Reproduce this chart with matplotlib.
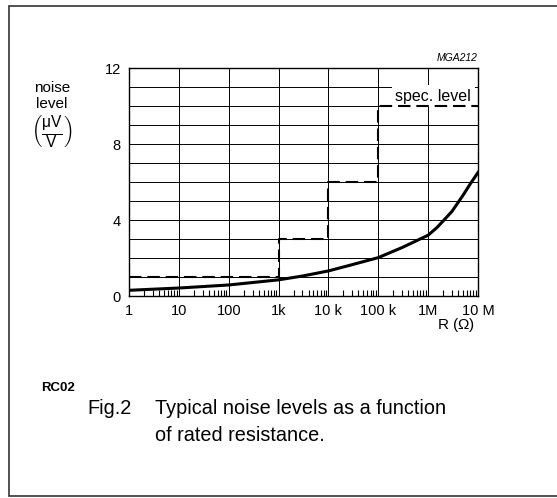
import numpy as np
import matplotlib.pyplot as plt
from matplotlib.ticker import LogLocator, NullFormatter
from matplotlib.patches import Rectangle

plt.rcParams['font.family'] = ['Liberation Sans', 'DejaVu Sans']
plt.rcParams['mathtext.fontset'] = 'custom'
plt.rcParams['mathtext.rm'] = 'Liberation Sans'
plt.rcParams['mathtext.it'] = 'Liberation Sans'

# typical noise (uV/V) vs rated resistance (ohm)
r_typ = [1, 10, 100, 1e3, 3e3, 1e4, 3e4, 1e5, 3e5, 1e6, 1.5e6, 2e6, 3e6, 5e6, 7e6, 1e7]
noise_typ = [0.3, 0.42, 0.58, 0.85, 1.05, 1.32, 1.65, 2.02, 2.55, 3.2, 3.6, 3.95,
             4.45, 5.3, 5.9, 6.5]

# specification limit, stepwise per resistance range
r_spec = [1, 1e3, 1e4, 1e5, 1e7]
noise_spec = [1, 3, 6, 10, 10]

xticks = [1, 10, 100, 1e3, 1e4, 1e5, 1e6, 1e7]
xlabels = ['1', '10', '100', '1k', '10 k', '100 k', '1M', '10 M']
yticks = [0, 4, 8, 12]

W, H = 557, 498
fig = plt.figure(figsize=(W / 100, H / 100), dpi=100)
ax = fig.add_axes([129 / W, (H - 296) / H, (478 - 129) / W, (296 - 68) / H])

ax.set_xscale('log')
ax.set_xlim(1, 1e7)
ax.set_ylim(0, 12)

for y in range(1, 12):
    ax.axhline(y, color='black', lw=0.7, zorder=1)
for x in xticks[1:-1]:
    ax.axvline(x, color='black', lw=0.7, zorder=1)

ax.step(r_spec, noise_spec, where='post', color='black', lw=1.5,
        dashes=(6, 2.8), zorder=5)
ax.plot(r_typ, noise_typ, color='black', lw=2.2, zorder=6,
        solid_joinstyle='round')

ax.set_xticks(xticks)
ax.set_xticklabels(xlabels)
ax.set_yticks(yticks)
ax.xaxis.set_minor_locator(LogLocator(base=10, subs=np.arange(2, 10), numticks=30))
ax.xaxis.set_minor_formatter(NullFormatter())
ax.tick_params(axis='x', which='major', length=0, pad=6, labelsize=10.5)
ax.tick_params(axis='x', which='minor', direction='in', length=4, width=0.8,
               bottom=True)
ax.tick_params(axis='y', length=0, pad=6, labelsize=10.5)
for s in ax.spines.values():
    s.set_linewidth(1.0)
    s.set_zorder(7)

ax.text(1.0, 1.02, 'MGA212', transform=ax.transAxes, ha='right', va='bottom',
        fontsize=7.5, style='italic')
ax.text(0.98, 0.877, 'spec. level', transform=ax.transAxes, ha='right',
        va='center', fontsize=11.5, zorder=4,
        bbox=dict(facecolor='white', edgecolor='none', pad=2.5))

fig.text(52 / W, 1 - 96 / H, 'noise\nlevel', ha='center', va='center',
         fontsize=11, linespacing=1.1)
fig.text(52 / W, 1 - 132 / H, r'$\left(\frac{\mathrm{\mu V}}{\mathrm{V}}\right)$',
         ha='center', va='center', fontsize=16)
fig.text(475 / W, 1 - 325 / H, r'R ($\Omega$)', ha='right', va='center',
         fontsize=11)
fig.text(41 / W, 1 - 388 / H, 'RC02', ha='left', va='center', fontsize=9.5,
         weight='bold')
fig.text(87 / W, 1 - 408 / H, 'Fig.2', ha='left', va='center', fontsize=14.3)
fig.text(155 / W, 1 - 408 / H, 'Typical noise levels as a function',
         ha='left', va='center', fontsize=14.3)
fig.text(155 / W, 1 - 435 / H, 'of rated resistance.',
         ha='left', va='center', fontsize=14.3)

fig.patches.append(Rectangle((9 / W, 2 / H), (W - 8) / W, (H - 8) / H,
                             transform=fig.transFigure, fill=False,
                             edgecolor='#333333', lw=1.2))

fig.savefig('out.png', dpi=100)
